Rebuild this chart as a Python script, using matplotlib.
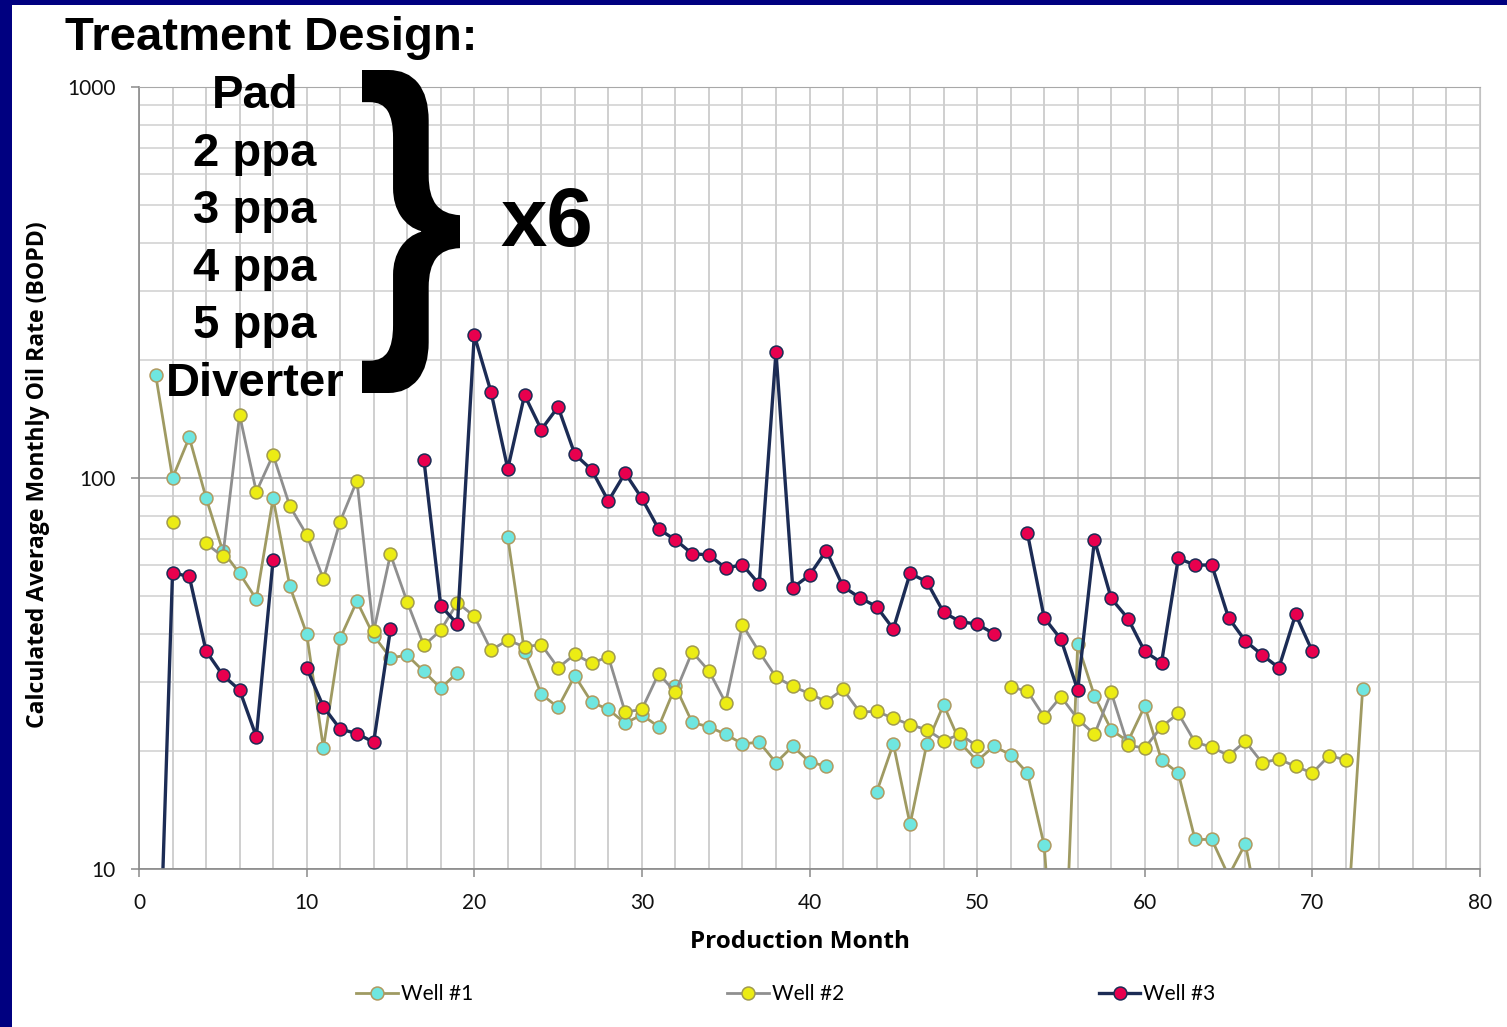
import numpy as np
import matplotlib
matplotlib.use("Agg")
import matplotlib.pyplot as plt
from matplotlib.patches import Rectangle, PathPatch
from matplotlib.textpath import TextPath
from matplotlib.font_manager import FontProperties
from matplotlib.transforms import Affine2D, IdentityTransform
from matplotlib.ticker import LogLocator, FixedLocator, NullFormatter, FuncFormatter

nan = np.nan
months = np.arange(1, 74)

well1 = [183, 100, 127, 89, 65, 57, 49, 88.7, 52.8, 40,
         20.4, 38.9, 48.4, 39.5, 34.7, 35.2, 32, 29, 31.8, nan,
         nan, 70.5, 35.9, 28, 25.9, 31.2, 26.7, 25.6, 23.6, 24.8,
         23.1, 29.3, 23.7, 23.1, 22.1, 20.9, 21.1, 18.7, 20.6, 18.8,
         18.3, nan, nan, 15.7, 20.9, 13.0, 20.9, 26.3, 21.0, 18.9,
         20.6, 19.6, 17.6, 11.5, 3.0, 37.6, 27.7, 22.7, 21.2, 26.1,
         19.0, 17.6, 11.9, 11.9, 9.6, 11.6, 7.0, nan, nan, nan,
         nan, 6.4, 28.9]

well2 = [nan, 77.4, nan, 68, 63, 145, 92.2, 114.6, 84.7, 71.6,
         55.2, 77.4, 98.5, 40.5, 63.8, 48.2, 37.3, 40.8, 48, 44.3,
         36.3, 38.5, 37, 37.5, 32.7, 35.4, 33.6, 34.9, 25.2, 25.6,
         31.6, 28.3, 35.9, 32.1, 26.6, 42.1, 35.9, 31, 29.3, 28.1,
         26.8, 28.8, 25.2, 25.3, 24.3, 23.4, 22.7, 21.3, 22.1, 20.6,
         nan, 29.2, 28.5, 24.5, 27.6, 24.2, 22.1, 28.3, 20.7, 20.4,
         23.1, 25, 21.1, 20.5, 19.5, 21.2, 18.7, 19.1, 18.3, 17.6,
         19.5, 19, nan]

well3 = [2.7, 57.2, 56, 36.1, 31.3, 28.7, 21.8, 61.8, nan, 32.7,
         26, 22.8, 22.2, 21.1, 41, nan, 111, 47.1, 42.3, 232,
         166, 105.6, 163, 133, 152, 115, 105, 87.3, 103, 88.7,
         74, 69.5, 64, 63.6, 58.8, 60, 53.5, 210, 52.4, 56.4,
         65.2, 52.8, 49.4, 46.9, 41.1, 57, 54.3, 45.3, 42.9, 42.3,
         40, nan, 72.3, 43.9, 38.7, 28.7, 69.4, 49.2, 43.7, 36,
         33.7, 62.3, 59.9, 59.9, 43.9, 38.3, 35.3, 32.7, 44.8, 36,
         nan, nan, nan]

series_names = ["Well #1", "Well #2", "Well #3"]
design_lines = ["Pad", "2 ppa", "3 ppa", "4 ppa", "5 ppa", "Diverter"]
x_ticks = list(range(0, 81, 10))
y_ticks = [10, 100, 1000]

W, H = 1507, 1027
fig = plt.figure(figsize=(W / 100, H / 100), dpi=100)
fig.patch.set_facecolor("white")

def fx(x):
    return x / W

def fy(y):
    return 1 - y / H

# navy slide frame
fig.add_artist(Rectangle((0, 0), fx(12), 1, transform=fig.transFigure,
                         facecolor="#000080", edgecolor="none", zorder=0))
fig.add_artist(Rectangle((0, fy(5)), 1, 5 / H, transform=fig.transFigure,
                         facecolor="#000080", edgecolor="none", zorder=0))

ax = fig.add_axes([fx(139), fy(869), (1480 - 139) / W, (869 - 87) / H])
ax.set_facecolor("white")
ax.set_yscale("log")
ax.set_xlim(0, 80)
ax.set_ylim(10, 1000)

ax.xaxis.set_major_locator(FixedLocator(x_ticks))
ax.xaxis.set_minor_locator(FixedLocator(list(range(0, 81, 2))))
ax.yaxis.set_major_locator(FixedLocator(y_ticks))
ax.yaxis.set_minor_locator(LogLocator(base=10, subs=np.arange(2, 10)))
ax.yaxis.set_major_formatter(FuncFormatter(lambda v, p: f"{int(round(v))}"))
ax.yaxis.set_minor_formatter(NullFormatter())

ax.grid(which="major", axis="y", color="#a8a8a8", lw=1.3)
ax.grid(which="minor", axis="y", color="#cfcfcf", lw=1.1)
ax.grid(which="both", axis="x", color="#c2c2c2", lw=1.1)
ax.set_axisbelow(True)

ax.tick_params(which="major", length=6, width=1.1, color="#8a8a8a",
               direction="out", labelsize=15, labelcolor="#111111")
ax.tick_params(axis="y", which="major", pad=11)
ax.tick_params(axis="x", which="major", pad=11)
ax.tick_params(which="minor", length=0)
for lab in ax.get_xticklabels() + ax.get_yticklabels():
    lab.set_family("Lato")

ax.spines["left"].set_color("#8a8a8a")
ax.spines["bottom"].set_color("#8a8a8a")
ax.spines["left"].set_linewidth(1.2)
ax.spines["bottom"].set_linewidth(1.2)
ax.spines["top"].set_color("#a8a8a8")
ax.spines["right"].set_color("#c2c2c2")

styles = [
    dict(color="#9f9a62", mfc="#6fe6e0", mec="#b09a60"),
    dict(color="#8f8f8f", mfc="#ecec14", mec="#a09a50"),
    dict(color="#1c2c55", mfc="#e8004e", mec="#1c2c55"),
]
lws = [2.0, 2.0, 2.4]
handles = []
for data, st, lw, name in zip([well1, well2, well3], styles, lws, series_names):
    h, = ax.plot(months, data, "-o", color=st["color"], lw=lw, ms=9.3,
                 mfc=st["mfc"], mec=st["mec"], mew=1.1, label=name)
    handles.append(h)

fig.text(fx(800), fy(942), "Production Month", ha="center", va="center",
         fontsize=17.5, fontweight="bold", family="Open Sans")
fig.text(fx(38), fy(475), "Calculated Average Monthly Oil Rate (BOPD)",
         rotation=90, ha="center", va="center", fontsize=16.6,
         fontweight="bold", family="Open Sans")

fig.legend(handles=handles, labels=series_names, loc="center",
           bbox_to_anchor=(fx(786), fy(994)), ncol=3, frameon=False,
           prop={"family": "Lato", "size": 15}, handlelength=2.0,
           handletextpad=0.15, columnspacing=12.2)

# Treatment design annotation
fig.text(fx(65), fy(50), "Treatment Design:", ha="left", va="baseline",
         fontsize=34, fontweight="bold", family="Liberation Sans")
baselines = [108, 166, 223, 281, 338, 396]
for txt, b in zip(design_lines, baselines):
    fig.text(fx(255), fy(b), txt, ha="center", va="baseline",
             fontsize=34, fontweight="bold", family="Liberation Sans")

# large curly brace fitted to its box (pixel coordinates)
fp = FontProperties(family="Liberation Sans", weight="bold")
tp = TextPath((0, 0), "}", size=100, prop=fp)
ext = tp.get_extents()
bx0, bx1, by_top, by_bot = 362, 460, 70, 393
sx = (bx1 - bx0) / ext.width
sy = (by_bot - by_top) / ext.height
tr = (Affine2D().translate(-ext.x0, -ext.y0).scale(sx, sy)
      .translate(bx0, H - by_bot))
fig.add_artist(PathPatch(tp, transform=tr + IdentityTransform(),
                         facecolor="black", edgecolor="none", zorder=5))

fig.text(fx(500), fy(246), "x6", ha="left", va="baseline",
         fontsize=60, fontweight="bold", family="Liberation Sans")

fig.savefig("out.png", dpi=100, facecolor="white")
